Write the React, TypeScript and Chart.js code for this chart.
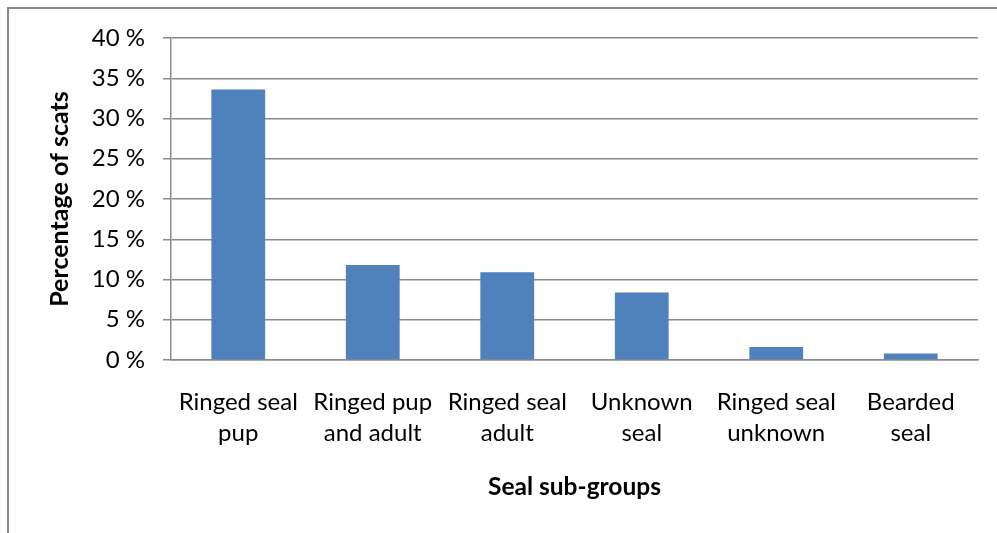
import React, { useEffect, useRef } from "react";
import { Chart, registerables } from "chart.js";

Chart.register(...registerables);

// Seal sub-groups found in scats (percentage of scats)
const categories: string[][] = [
  ["Ringed seal", "pup"],
  ["Ringed pup", "and adult"],
  ["Ringed seal", "adult"],
  ["Unknown", "seal"],
  ["Ringed seal", "unknown"],
  ["Bearded", "seal"],
];
const percentages: number[] = [33.6, 11.8, 10.9, 8.4, 1.6, 0.8];
const yTickMax = 40;
const yTickStep = 5;
const xTitle = "Seal sub-groups";
const yTitle = "Percentage of scats";

const FONT = "Lato, 'Open Sans', sans-serif";
const AXIS_GRAY = "#8a8a8a";
const BAR_BLUE = "#4f81bd";

const W = 997;
const H = 533;

// frame lines on the left and top edge of the chart box
const framePlugin = {
  id: "frame",
  beforeDraw(chart: Chart) {
    const ctx = chart.ctx;
    ctx.save();
    ctx.fillStyle = "#ffffff";
    ctx.fillRect(0, 0, chart.width, chart.height);
    ctx.strokeStyle = AXIS_GRAY;
    ctx.lineWidth = 2;
    ctx.beginPath();
    ctx.moveTo(8, chart.height);
    ctx.lineTo(8, 8);
    ctx.lineTo(chart.width, 8);
    ctx.stroke();
    ctx.restore();
  },
};

export default function App() {
  const canvasRef = useRef<HTMLCanvasElement | null>(null);

  useEffect(() => {
    if (!canvasRef.current) return;
    const chart = new Chart(canvasRef.current, {
      type: "bar",
      data: {
        labels: categories,
        datasets: [
          {
            data: percentages,
            backgroundColor: BAR_BLUE,
            borderWidth: 0,
            categoryPercentage: 1,
            barPercentage: 0.4,
          },
        ],
      },
      options: {
        responsive: false,
        animation: false,
        devicePixelRatio: 1,
        layout: { padding: { top: 38, right: 19, bottom: 0, left: 0 } },
        plugins: {
          legend: { display: false },
          tooltip: { enabled: false },
        },
        scales: {
          x: {
            grid: { display: false },
            border: { display: true, color: AXIS_GRAY, width: 1.5 },
            ticks: {
              color: "#000",
              font: { family: FONT, size: 24, lineHeight: 31 / 24 },
              padding: 19,
              maxRotation: 0,
              autoSkip: false,
            },
            title: {
              display: true,
              text: xTitle,
              color: "#000",
              font: { family: FONT, size: 24.5, weight: "bold", lineHeight: 1.2 },
              padding: { top: 0, bottom: 31 },
            },
            afterFit(scale: any) {
              scale.height = H - 360;
            },
          },
          y: {
            min: 0,
            max: yTickMax,
            grid: {
              color: AXIS_GRAY,
              lineWidth: 1.5,
              drawTicks: true,
              tickLength: 8,
            },
            border: { display: true, color: AXIS_GRAY, width: 1.5 },
            ticks: {
              stepSize: yTickStep,
              color: "#000",
              font: { family: FONT, size: 24 },
              padding: 18,
              callback: (v: any) => `${v} %`,
            },
            title: {
              display: true,
              text: yTitle,
              color: "#000",
              font: { family: FONT, size: 25, weight: "bold", lineHeight: 1.2 },
              padding: { top: 45, bottom: 0 },
            },
            afterFit(scale: any) {
              scale.width = 171;
            },
          },
        },
      },
      plugins: [framePlugin],
    });
    return () => chart.destroy();
  }, []);

  return (
    <div style={{ position: "fixed", left: 0, top: 0, width: W, height: H, background: "#fff" }}>
      <canvas ref={canvasRef} width={W} height={H} style={{ width: W, height: H, display: "block" }} />
    </div>
  );
}
